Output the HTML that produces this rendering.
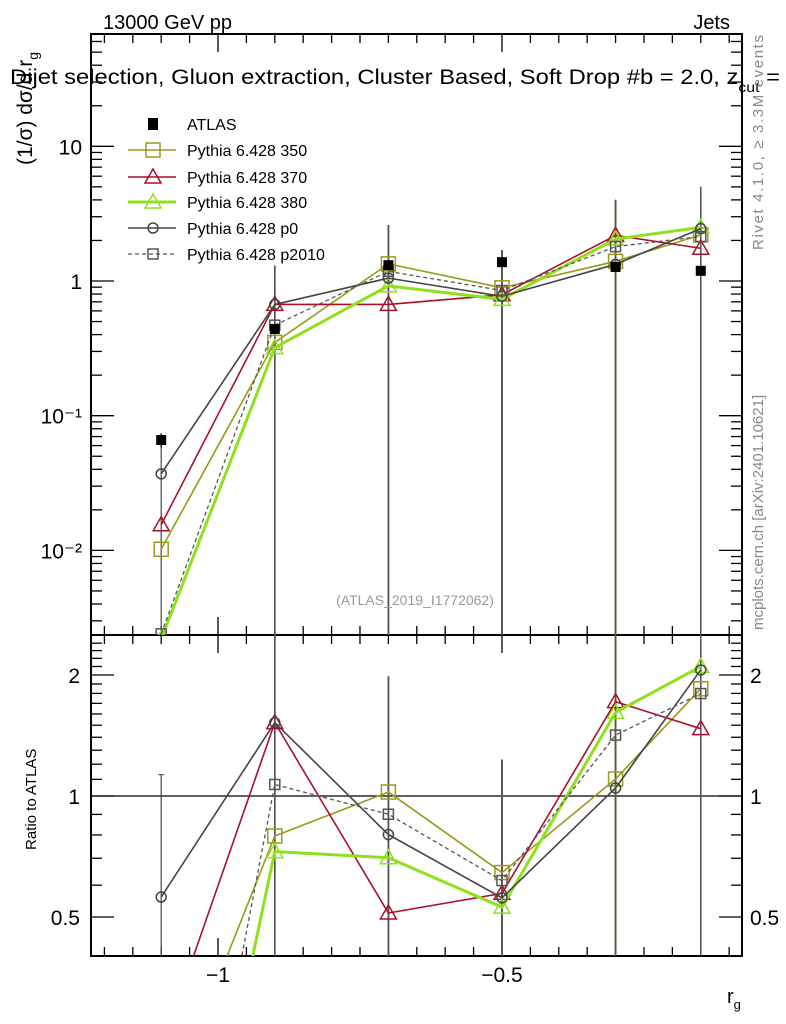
<!DOCTYPE html>
<html><head><meta charset="utf-8">
<style>
html,body{margin:0;background:#fff;width:786px;height:1024px;overflow:hidden;position:relative;}
svg{display:block;font-family:"Liberation Sans",sans-serif;}
</style></head>
<body>
<svg id="c" width="786" height="1024" viewBox="0 0 786 1024" style="position:absolute;left:0;top:0"></svg>
<script>
const xCats=[-1.1,-0.9,-0.7,-0.5,-0.3,-0.15];
const atlas=[0.066,0.44,1.31,1.38,1.27,1.19];
const atlasErr=[0.008,0.03,0.05,0.05,0.05,0.05];
const s350=[0.0102,0.35,1.34,0.89,1.40,2.2];
const s370=[0.0155,0.67,0.67,0.79,2.18,1.75];
const s380=[0.0022,0.32,0.92,0.73,2.05,2.5];
const sp0=[0.037,0.67,1.05,0.77,1.33,2.45];
const sp2010=[0.0024,0.47,1.18,0.85,1.8,2.14];
const mcErrHi=[0.02,1.3,2.6,1.7,4.0,5.0];
const yTicks=[10,1,0.1,0.01];
const yTickLabels=["10","1","10\u207B\u00B9","10\u207B\u00B2"];
const rTicks=[2,1,0.5];
const rTickLabels=["2","1","0.5"];
const xTicks=[-1,-0.5];
const xTickLabels=["\u22121","\u22120.5"];

const NS="http://www.w3.org/2000/svg";
const svg=document.getElementById('c');
function mk(tag,attrs,parent){const e=document.createElementNS(NS,tag);for(const k in attrs)e.setAttribute(k,attrs[k]);(parent||svg).appendChild(e);return e;}
const L=91,R=742,T=34,M=635,B=956;
const xmin=-1.2236,xmax=-0.0774;
function X(v){return L+(v-xmin)/(xmax-xmin)*(R-L);}
function Y(v){return 281-Math.log10(v)*134.7;}
function RY(v){return 796-Math.log2(v)*121;}

const defs=mk('defs',{});
const cp=mk('clipPath',{id:'cm'},defs);mk('rect',{x:L,y:T,width:R-L,height:M-T},cp);
const cr=mk('clipPath',{id:'cr'},defs);mk('rect',{x:L,y:M,width:R-L,height:B-M},cr);

let f=mk('rect',{x:L,y:T,width:R-L,height:M-T,fill:'none',stroke:'#000','stroke-width':2});


f=mk('rect',{x:L,y:M,width:R-L,height:B-M,fill:'none',stroke:'#000','stroke-width':2});



const tg=mk('g',{stroke:'#000','stroke-width':1.3});


for(let d=-3;d<=1;d++){for(let m=1;m<10;m++){const v=m*Math.pow(10,d);const y=Y(v);if(y<T||y>M)continue;const len=m===1?23:11;mk('line',{x1:L,x2:L+len,y1:y,y2:y},tg);mk('line',{x1:R,x2:R-len,y1:y,y2:y},tg);}}
for(let v=0.4;v<=2.5;v+=0.1){const y=RY(v);if(y<M||y>B)continue;const maj=Math.abs(v-1)<1e-6||Math.abs(v-2)<1e-6||Math.abs(v-0.5)<1e-6;const len=maj?23:11;mk('line',{x1:L,x2:L+len,y1:y,y2:y},tg);mk('line',{x1:R,x2:R-len,y1:y,y2:y},tg);}
for(let i=-24;i<=-1;i++){const v=i*0.05;const x=X(v);if(x<L||x>R)continue;const maj=Math.abs(v*2-Math.round(v*2))<1e-6;const len=maj?18:9;
 mk('line',{x1:x,x2:x,y1:T,y2:T+len},tg);mk('line',{x1:x,x2:x,y1:M,y2:M-len},tg);mk('line',{x1:x,x2:x,y1:M,y2:M+len},tg);mk('line',{x1:x,x2:x,y1:B,y2:B-len},tg);}

yTicks.forEach((v,i)=>{const t=mk('text',{x:82,y:Y(v)+8,'text-anchor':'end','font-size':21});t.textContent=yTickLabels[i];

});
rTicks.forEach((v,i)=>{let t=mk('text',{x:80,y:RY(v)+8,'text-anchor':'end','font-size':21});t.textContent=rTickLabels[i];


t=mk('text',{x:750,y:RY(v)+8,'font-size':21});t.textContent=rTickLabels[i];

});
xTicks.forEach((v,i)=>{const t=mk('text',{x:X(v),y:982,'text-anchor':'middle','font-size':21});t.textContent=xTickLabels[i];

});

let rl=mk('line',{x1:L,x2:R,y1:RY(1),y2:RY(1),stroke:'#000','stroke-width':1.3});



const series=[
 {name:'pythia-350',vals:s350,col:'#9a9a1a',w:1.6,mark:'sq',dash:null,ms:7},
 {name:'pythia-370',vals:s370,col:'#a8102c',w:1.6,mark:'tri',dash:null,ms:8},
 {name:'pythia-380',vals:s380,col:'#8fe01e',w:3,mark:'tri',dash:null,ms:8},
 {name:'pythia-p0',vals:sp0,col:'#444444',w:1.6,mark:'circ',dash:null,ms:5},
 {name:'pythia-p2010',vals:sp2010,col:'#555555',w:1.3,mark:'sq',dash:'4,3',ms:5}
];
function marker(g,m,x,y,col,s,w){
 if(m==='sq')return mk('rect',{x:x-s,y:y-s,width:2*s,height:2*s,fill:'none',stroke:col,'stroke-width':w},g);
 if(m==='tri')return mk('polygon',{points:`${x},${y-s} ${x-s},${y+s*0.75} ${x+s},${y+s*0.75}`,fill:'none',stroke:col,'stroke-width':w},g);
 return mk('circle',{cx:x,cy:y,r:s,fill:'none',stroke:col,'stroke-width':w},g);
}
const eg=mk('g',{'clip-path':'url(#cm)'});


const eg2=mk('g',{'clip-path':'url(#cr)'});


series.forEach(s=>{xCats.forEach((xv,i)=>{if(i===0)return;const x=X(xv);
 mk('line',{x1:x,x2:x,y1:M,y2:Y(mcErrHi[i]),stroke:s.col,'stroke-width':1.5},eg);
 mk('line',{x1:x,x2:x,y1:B,y2:RY(mcErrHi[i]/atlas[i]),stroke:s.col,'stroke-width':1.5},eg2);});});
{const x=X(xCats[0]);mk('line',{x1:x,x2:x,y1:M,y2:Y(sp0[0]*1.6),stroke:'#444','stroke-width':1.2},eg);
 mk('line',{x1:x,x2:x,y1:B,y2:RY(1.13),stroke:'#444','stroke-width':1.2},eg2);mk('line',{x1:x-3,x2:x+3,y1:RY(1.13),y2:RY(1.13),stroke:'#444'},eg2);}

series.forEach(s=>{
 const g=mk('g',{'clip-path':'url(#cm)'});
 
 
 const pts=xCats.map((xv,i)=>X(xv)+','+Y(s.vals[i])).join(' ');
 const pl=mk('polyline',{points:pts,fill:'none',stroke:s.col,'stroke-width':s.w});if(s.dash)pl.setAttribute('stroke-dasharray',s.dash);g.appendChild(pl);
 xCats.forEach((xv,i)=>{const m=marker(g,s.mark,X(xv),Y(s.vals[i]),s.col,s.ms,1.5);
  
  });
 const g2=mk('g',{'clip-path':'url(#cr)'});
 
 
 const rp=xCats.map((xv,i)=>X(xv)+','+RY(s.vals[i]/atlas[i])).join(' ');
 const pl2=mk('polyline',{points:rp,fill:'none',stroke:s.col,'stroke-width':s.w});if(s.dash)pl2.setAttribute('stroke-dasharray',s.dash);g2.appendChild(pl2);
 xCats.forEach((xv,i)=>{const m=marker(g2,s.mark,X(xv),RY(s.vals[i]/atlas[i]),s.col,s.ms,1.5);
  
  });
});
const ag=mk('g',{});


xCats.forEach((xv,i)=>{const x=X(xv),y=Y(atlas[i]);
 mk('line',{x1:x,x2:x,y1:Y(atlas[i]+atlasErr[i]),y2:Y(atlas[i]-atlasErr[i]),stroke:'#000','stroke-width':1.3},ag);
 const r=mk('rect',{x:x-5,y:y-5,width:10,height:10,fill:'#000'},ag);
 
 });

const lg=mk('g',{});


const names=['ATLAS','Pythia 6.428 350','Pythia 6.428 370','Pythia 6.428 380','Pythia 6.428 p0','Pythia 6.428 p2010'];
const ly=[124,150,177,202,228,254];
names.forEach((n,i)=>{const e=mk('g',{},lg);
 
 
 if(i===0){mk('rect',{x:148,y:ly[i]-6,width:10,height:12,fill:'#000'},e);}
 else{const s=series[i-1];const l=mk('line',{x1:128,x2:176,y1:ly[i],y2:ly[i],stroke:s.col,'stroke-width':s.w},e);if(s.dash)l.setAttribute('stroke-dasharray',s.dash);marker(e,s.mark,153,ly[i],s.col,s.ms,1.5);}
 const t=mk('text',{x:187,y:ly[i]+6,'font-size':16},e);t.textContent=n;});
</script>
<svg width="786" height="1024" style="position:absolute;left:0;top:0" font-family="Liberation Sans, sans-serif">
<text x="103" y="29" font-size="20">13000 GeV pp</text>
<text x="730" y="29" font-size="20" text-anchor="end">Jets</text>
<text x="10" y="84" font-size="21" textLength="770" lengthAdjust="spacingAndGlyphs">Dijet selection, Gluon extraction, Cluster Based, Soft Drop #b = 2.0, z<tspan font-size="14" dy="8">cut</tspan><tspan dy="-8"> =</tspan></text>
<text transform="translate(32,165) rotate(-90)" font-size="21">(1/σ) dσ/d r<tspan font-size="14" dy="6">g</tspan></text>
<text transform="translate(763,250) rotate(-90)" font-size="15" fill="#888" textLength="215">Rivet 4.1.0, ≥ 3.3M events</text>
<text transform="translate(763,630) rotate(-90)" font-size="15" fill="#888">mcplots.cern.ch [arXiv:2401.10621]</text>
<text x="415" y="605" font-size="14" fill="#999" text-anchor="middle">(ATLAS_2019_I1772062)</text>
<text transform="translate(36,850) rotate(-90)" font-size="15">Ratio to ATLAS</text>
<text x="727" y="1003" font-size="20">r<tspan font-size="13" dy="6">g</tspan></text>
</svg>
</body></html>
